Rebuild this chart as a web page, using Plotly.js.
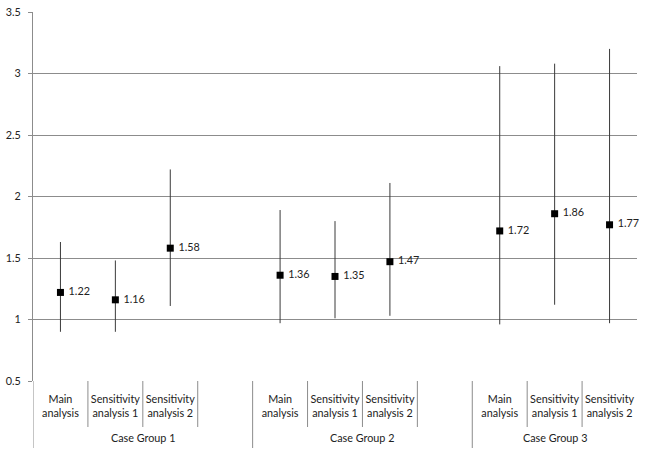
<!DOCTYPE html>
<html>
<head>
<meta charset="utf-8">
<script src="https://cdn.plot.ly/plotly-3.0.1.min.js"></script>
<style>
  html, body { margin: 0; padding: 0; background: #fff; }
  #plot { width: 645px; height: 458px; }
</style>
</head>
<body>
<div id="plot"></div>
<script>
// categories (blank slot between groups)
var groups = ["Case Group 1", "Case Group 1", "Case Group 1", "Case Group 1",
              "Case Group 2", "Case Group 2", "Case Group 2", "Case Group 2",
              "Case Group 3", "Case Group 3", "Case Group 3"];
var analyses = ["Main<br>analysis", "Sensitivity<br>analysis 1", "Sensitivity<br>analysis 2", "",
                "Main<br>analysis", "Sensitivity<br>analysis 1", "Sensitivity<br>analysis 2", "",
                "Main<br>analysis", "Sensitivity<br>analysis 1", "Sensitivity<br>analysis 2"];

// point estimates and confidence limits
var estimate = [1.22, 1.16, 1.58, null, 1.36, 1.35, 1.47, null, 1.72, 1.86, 1.77];
var lower    = [0.90, 0.90, 1.11, null, 0.97, 1.01, 1.03, null, 0.96, 1.12, 0.97];
var upper    = [1.63, 1.48, 2.22, null, 1.89, 1.80, 2.11, null, 3.06, 3.08, 3.20];

var FONT = "Lato, Liberation Sans, Arial, sans-serif";
var SIZE = 10.8;

var slot = analyses.map((a, i) => i);
var plus = estimate.map((v, i) => v == null ? null : upper[i] - v);
var minus = estimate.map((v, i) => v == null ? null : v - lower[i]);

var trace = {
  x: slot,
  y: estimate,
  type: "scatter",
  mode: "markers+text",
  marker: { symbol: "square", size: 7, color: "#000" },
  text: estimate.map(v => v == null ? "" : "\u00a0" + v.toFixed(2)),
  textposition: "middle right",
  textfont: { family: FONT, size: SIZE, color: "#222" },
  error_y: {
    type: "data",
    symmetric: false,
    array: plus,
    arrayminus: minus,
    width: 0,
    thickness: 1,
    color: "#3a3a3a"
  },
  cliponaxis: false,
  hoverinfo: "y"
};

// category separators below the axis: short inside a group, long between groups
var lineStyle = { color: "#8c8c8c", width: 1 };
var shapes = [];
var groupNames = [];
groups.forEach(function (g, i) {
  var first = i === 0 || groups[i - 1] !== g;
  if (first) groupNames.push(g);
  shapes.push({ type: "line", xref: "x", yref: "paper", ysizemode: "pixel", yanchor: 0,
                x0: i - 0.5, x1: i - 0.5, y0: 0, y1: first ? -67 : -46, line: lineStyle });
});

var annotations = groupNames.map(function (g) {
  var idx = slot.filter(i => groups[i] === g);
  var mid = (idx[0] + idx[idx.length - 1]) / 2;
  return { text: g, x: mid, xref: "x", y: 0, yref: "paper", yanchor: "middle",
           yshift: -56, showarrow: false,
           font: { family: FONT, size: SIZE, color: "#222" } };
});

var layout = {
  width: 645,
  height: 458,
  margin: { l: 33, r: 8, t: 12, b: 77 },
  paper_bgcolor: "#fff",
  plot_bgcolor: "#fff",
  showlegend: false,
  font: { family: FONT, size: SIZE, color: "#222" },
  xaxis: {
    range: [-0.5, slot.length - 0.5],
    tickmode: "array",
    tickvals: slot,
    ticktext: analyses,
    tickangle: 0,
    ticks: "",
    ticklabelstandoff: 10,
    showgrid: false,
    showline: false,
    zeroline: false,
    tickfont: { family: FONT, size: SIZE, color: "#222" }
  },
  yaxis: {
    range: [0.5, 3.5],
    dtick: 0.5,
    tick0: 0.5,
    showgrid: true,
    gridcolor: "#8c8c8c",
    gridwidth: 1,
    showline: true,
    linecolor: "#8c8c8c",
    ticks: "outside",
    ticklen: 4,
    tickcolor: "#8c8c8c",
    ticklabelstandoff: 5,
    zeroline: false,
    tickfont: { family: FONT, size: SIZE, color: "#222" }
  },
  shapes: shapes,
  annotations: annotations
};

Plotly.newPlot("plot", [trace], layout, { displayModeBar: false, staticPlot: true });
</script>
</body>
</html>
